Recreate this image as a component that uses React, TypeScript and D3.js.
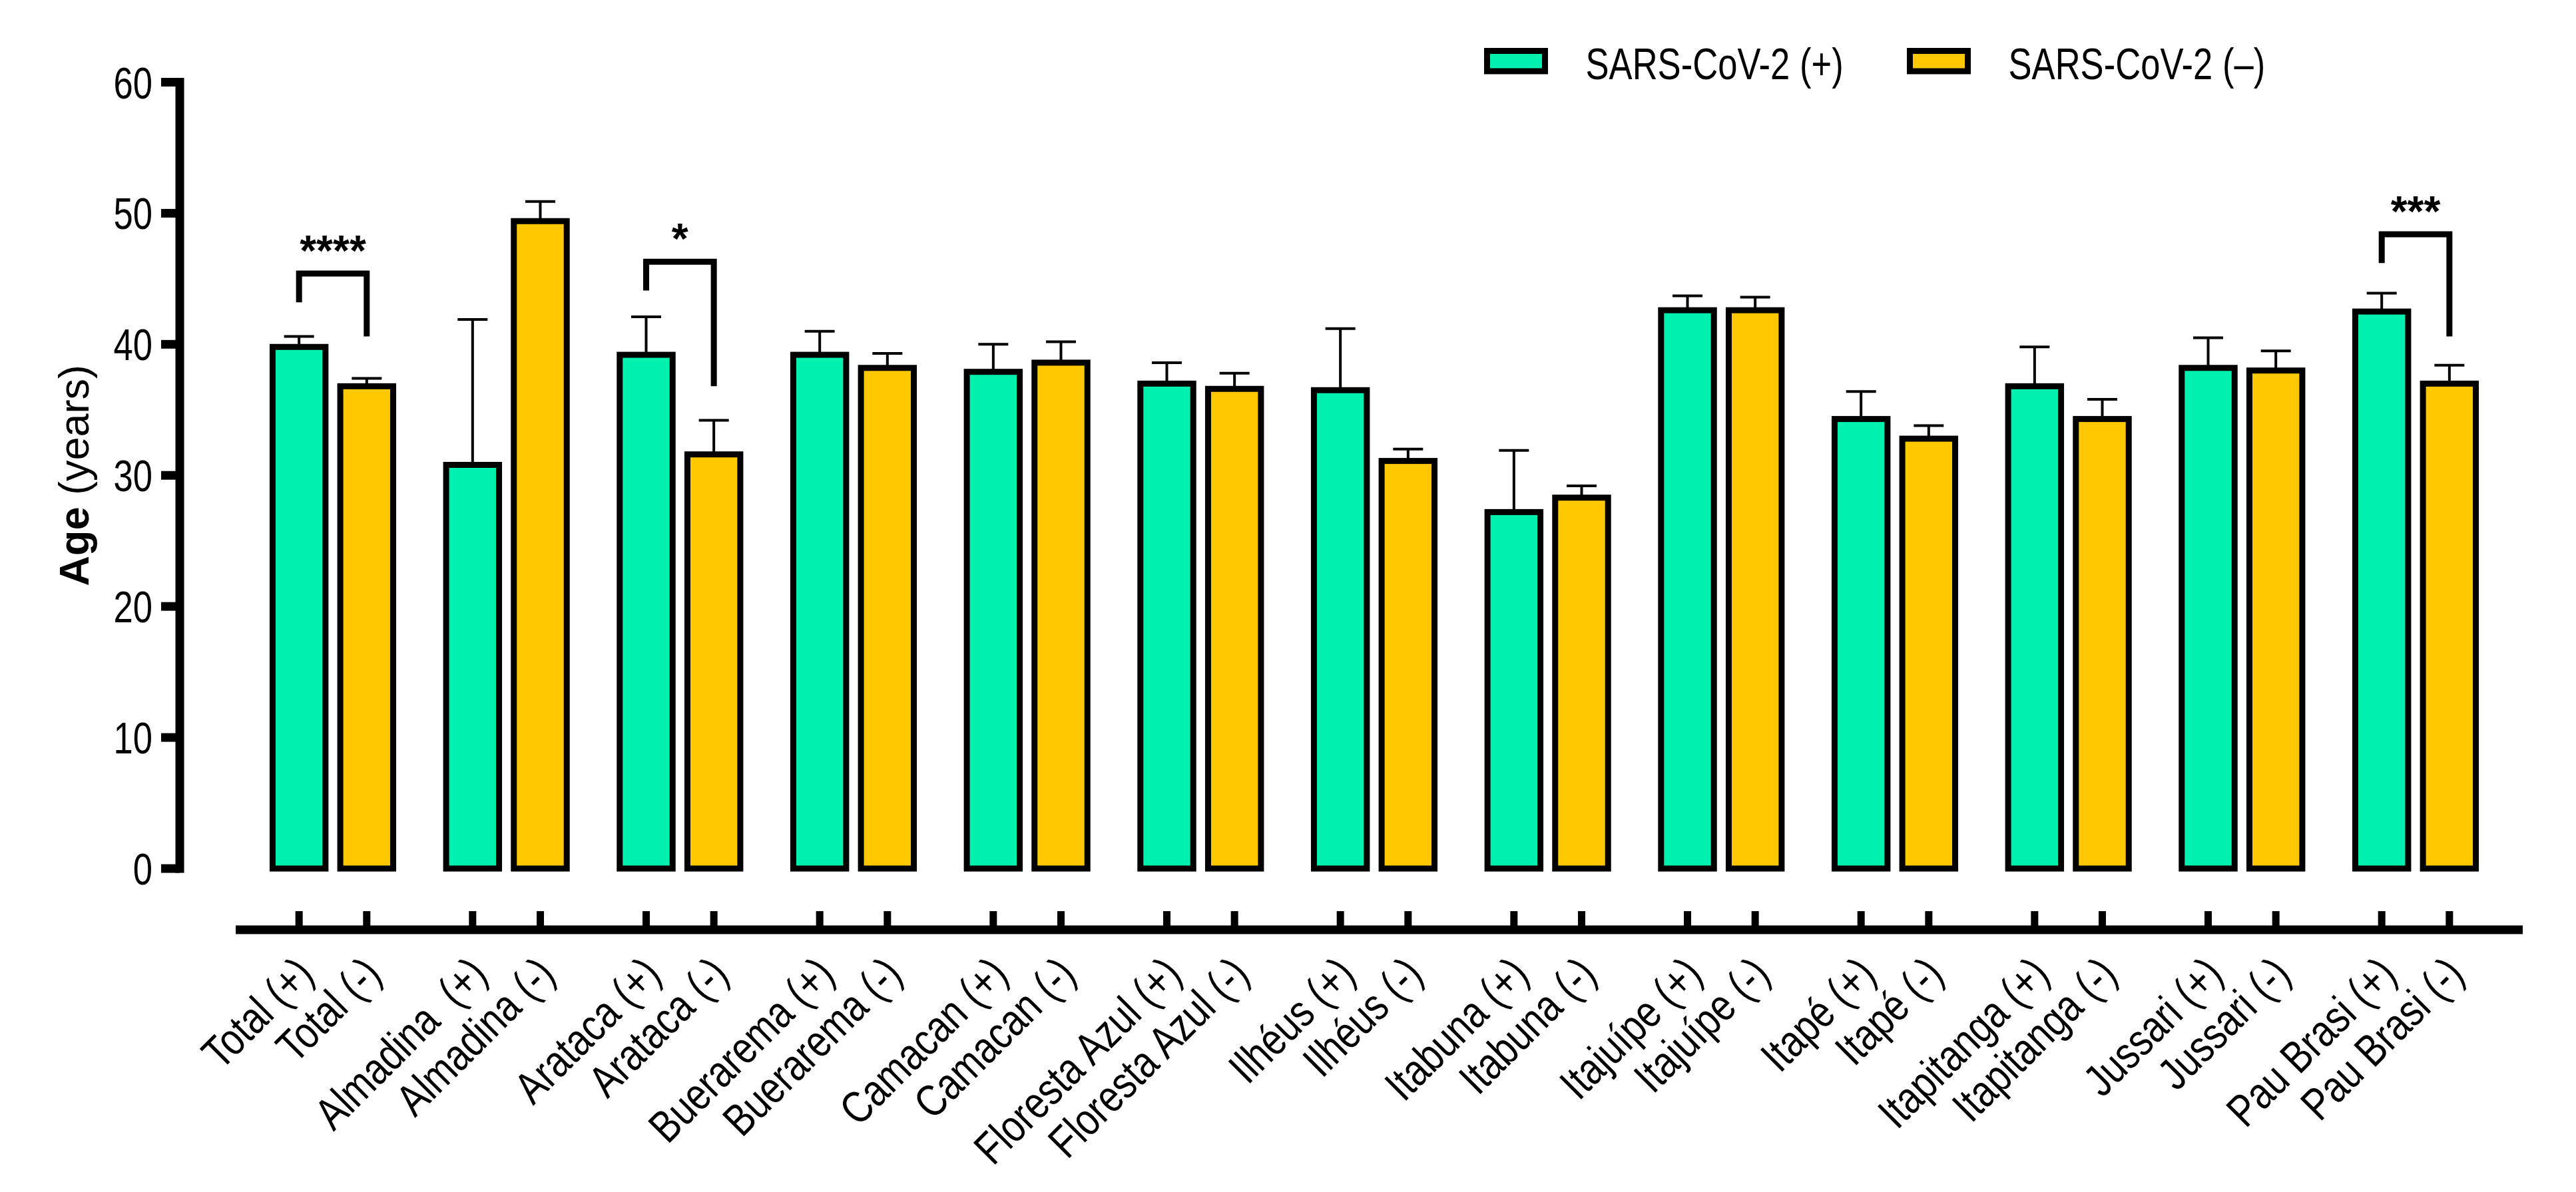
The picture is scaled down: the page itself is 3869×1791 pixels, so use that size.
import * as d3 from "d3";
import { useEffect } from "react";

const WIDTH = 3869;
const HEIGHT = 1791;

const GREEN = "#00F0AF";
const YELLOW = "#FFC800";

const groups = [
  "Total",
  "Almadina",
  "Arataca",
  "Buerarema",
  "Camacan",
  "Floresta Azul",
  "Ilhéus",
  "Itabuna",
  "Itajuípe",
  "Itapé",
  "Itapitanga",
  "Jussari",
  "Pau Brasi",
];
const posLabels = [
  "Total (+)",
  "Almadina  (+)",
  "Arataca (+)",
  "Buerarema (+)",
  "Camacan (+)",
  "Floresta Azul (+)",
  "Ilhéus (+)",
  "Itabuna (+)",
  "Itajuípe (+)",
  "Itapé (+)",
  "Itapitanga (+)",
  "Jussari (+)",
  "Pau Brasi (+)",
];
const negLabels = [
  "Total (-)",
  "Almadina (-)",
  "Arataca (-)",
  "Buerarema (-)",
  "Camacan (-)",
  "Floresta Azul (-)",
  "Ilhéus (-)",
  "Itabuna (-)",
  "Itajuípe (-)",
  "Itapé (-)",
  "Itapitanga (-)",
  "Jussari (-)",
  "Pau Brasi (-)",
];

// mean age and upper error (SEM) per group
const posMean = [39.8, 30.8, 39.2, 39.2, 37.9, 37.0, 36.5, 27.2, 42.6, 34.3, 36.8, 38.2, 42.5];
const posErr = [0.8, 11.1, 2.9, 1.8, 2.1, 1.6, 4.7, 4.7, 1.1, 2.1, 3.0, 2.3, 1.4];
const negMean = [36.8, 49.4, 31.6, 38.2, 38.6, 36.6, 31.1, 28.3, 42.6, 32.8, 34.3, 38.0, 37.0];
const negErr = [0.6, 1.5, 2.6, 1.1, 1.6, 1.2, 0.9, 0.9, 1.0, 1.0, 1.5, 1.5, 1.4];

const yTicks = [0, 10, 20, 30, 40, 50, 60];

// significance brackets
const sigGroups = ["Total", "Arataca", "Pau Brasi"];
const sigText = ["****", "*", "***"];
const sigTop = [45.4, 46.3, 48.4];
const sigLeftEnd = [43.2, 44.1, 46.2];
const sigRightEnd = [40.6, 36.8, 40.6];

const legendLabels = ["SARS-CoV-2 (+)", "SARS-CoV-2 (–)"];

const SANS = "'Liberation Sans', Arial, sans-serif";
const NARROW_X = 0.8; // condensed look, like Arial Narrow

export default function App() {
  useEffect(() => {
    document.body.style.margin = "0";
  }, []);

  const y = d3.scaleLinear().domain([0, 60]).range([1305, 123.5]);
  const xGroup = d3
    .scaleBand<string>()
    .domain(groups)
    .range([354, 3774])
    .paddingInner(0.22)
    .paddingOuter(0.17);
  const xSub = d3
    .scaleBand<string>()
    .domain(["pos", "neg"])
    .range([0, xGroup.bandwidth()])
    .paddingInner(0.13)
    .paddingOuter(0.065);

  const axisX0 = 354;
  const axisX1 = 3789;
  const axisY = 1397;
  const yAxisX = 270;

  const bars = groups.flatMap((g, i) => [
    { g, key: "pos", mean: posMean[i], err: posErr[i], label: posLabels[i], color: GREEN },
    { g, key: "neg", mean: negMean[i], err: negErr[i], label: negLabels[i], color: YELLOW },
  ]);
  const cx = (g: string, key: string) =>
    (xGroup(g) ?? 0) + (xSub(key) ?? 0) + xSub.bandwidth() / 2;

  const bw = xSub.bandwidth() - 9;

  return (
    <svg width={WIDTH} height={HEIGHT} style={{ display: "block", background: "#fff" }}>
      {/* y axis */}
      <line
        x1={yAxisX}
        x2={yAxisX}
        y1={y(60)}
        y2={y(0)}
        stroke="#000"
        strokeWidth={13}
        strokeLinecap="square"
      />
      {yTicks.map((t) => (
        <g key={t}>
          <line x1={yAxisX - 28} x2={yAxisX} y1={y(t)} y2={y(t)} stroke="#000" strokeWidth={13} />
          <text
            transform={`translate(229, ${y(t) + 24}) scale(0.785, 1)`}
            textAnchor="end"
            fontFamily={SANS}
            fontSize={67}
          >
            {t}
          </text>
        </g>
      ))}
      <text
        transform={`translate(133, ${(y(0) + y(60)) / 2}) rotate(-90)`}
        textAnchor="middle"
        fontFamily={SANS}
        fontSize={63}
      >
        <tspan fontWeight="bold">Age</tspan> (years)
      </text>

      {/* bars */}
      {bars.map((b) => {
        const c = cx(b.g, b.key);
        return (
          <g key={b.label}>
            <line x1={c} x2={c} y1={y(b.mean)} y2={y(b.mean + b.err)} stroke="#000" strokeWidth={4} />
            <line
              x1={c - 22.5}
              x2={c + 22.5}
              y1={y(b.mean + b.err)}
              y2={y(b.mean + b.err)}
              stroke="#000"
              strokeWidth={4}
            />
            <rect
              x={c - bw / 2}
              y={y(b.mean)}
              width={bw}
              height={y(0) - y(b.mean)}
              fill={b.color}
              stroke="#000"
              strokeWidth={9}
            />
          </g>
        );
      })}

      {/* significance brackets */}
      {sigGroups.map((g, i) => {
        const xl = cx(g, "pos");
        const xr = cx(g, "neg");
        return (
          <g key={g}>
            <path
              d={`M${xl},${y(sigLeftEnd[i])}V${y(sigTop[i])}H${xr}V${y(sigRightEnd[i])}`}
              fill="none"
              stroke="#000"
              strokeWidth={9}
            />
            <text
              x={(xl + xr) / 2}
              y={y(sigTop[i]) - 12}
              textAnchor="middle"
              fontFamily={SANS}
              fontWeight="bold"
              fontSize={64}
            >
              {sigText[i]}
            </text>
          </g>
        );
      })}

      {/* x axis */}
      <line x1={axisX0} x2={axisX1} y1={axisY} y2={axisY} stroke="#000" strokeWidth={13} />
      {bars.map((b) => {
        const c = cx(b.g, b.key);
        return (
          <g key={"t" + b.label}>
            <line x1={c} x2={c} y1={axisY - 28} y2={axisY} stroke="#000" strokeWidth={11} />
            <text
              transform={`translate(${c + 25}, 1467) rotate(-45) scale(0.82, 1)`}
              textAnchor="end"
              fontFamily={SANS}
              fontSize={67.5}
              style={{ whiteSpace: "pre" }}
            >
              {b.label}
            </text>
          </g>
        );
      })}

      {/* legend */}
      {legendLabels.map((l, i) => {
        const lx = [2233.5, 2868.5][i];
        return (
          <g key={l}>
            <rect
              x={lx}
              y={76.5}
              width={87}
              height={30.5}
              fill={[GREEN, YELLOW][i]}
              stroke="#000"
              strokeWidth={9}
            />
            <text
              transform={`translate(${lx + 148}, 119) scale(0.785, 1)`}
              fontFamily={SANS}
              fontSize={67}
            >
              {l}
            </text>
          </g>
        );
      })}
    </svg>
  );
}
